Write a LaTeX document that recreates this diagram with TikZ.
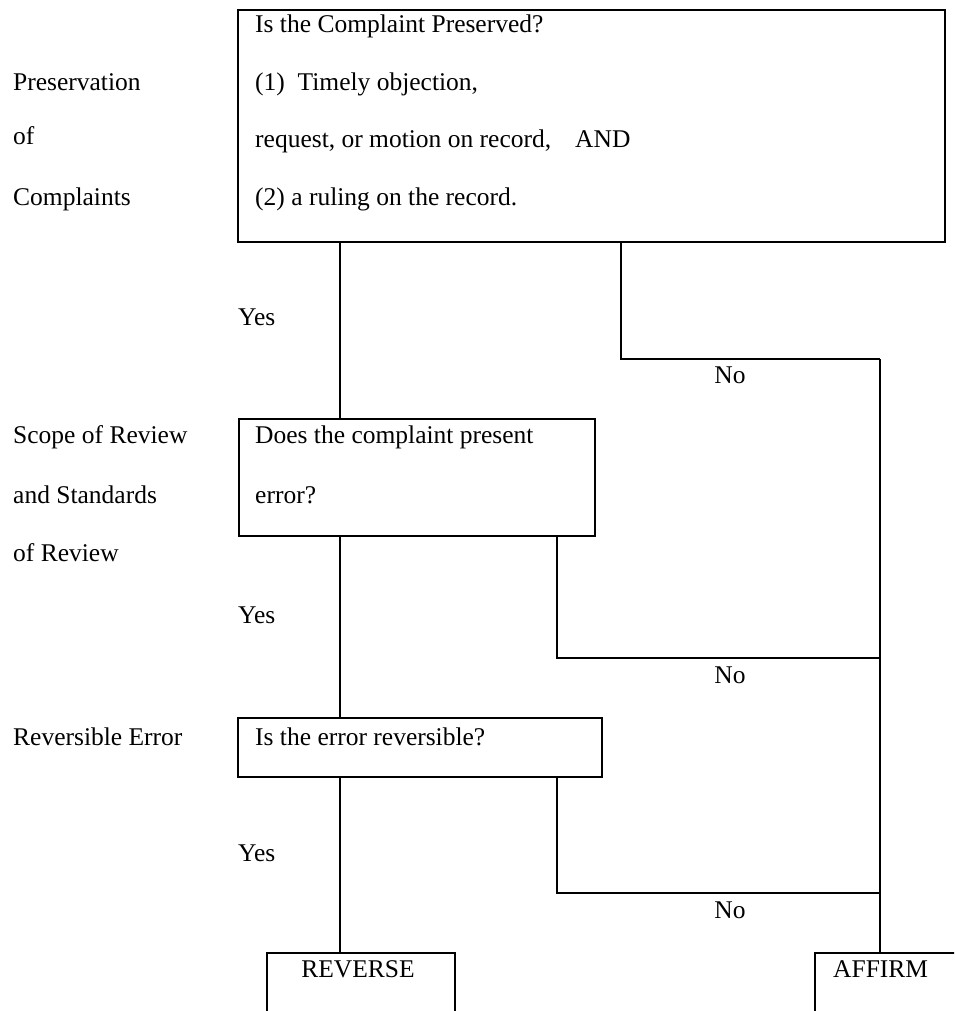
\documentclass[tikz,border=0pt]{standalone}
\usepackage{fontspec}
\setmainfont{Liberation Serif}
\begin{document}
\begin{tikzpicture}[x=1pt,y=-1pt,
  box/.style={draw, line width=1.8pt, anchor=north west, inner sep=0pt, outer sep=0pt},
  txt/.style={anchor=base west, inner sep=0pt, font=\fontsize{25.5}{30}\selectfont},
  ctxt/.style={anchor=base, inner sep=0pt, font=\fontsize{25.5}{30}\selectfont},
  wire/.style={line width=1.8pt}]
\clip (0,0) rectangle (954,1011);
\fill[white] (0,0) rectangle (954,1011);
% boxes
\node[box, minimum width=707pt, minimum height=232pt] (q1) at (238,10) {};
\node[box, minimum width=356pt, minimum height=117pt] (q2) at (239,419) {};
\node[box, minimum width=364pt, minimum height=59pt] (q3) at (238,718) {};
\node[box, minimum width=188pt, minimum height=100pt] (rev) at (267,953) {};
\node[box, minimum width=200pt, minimum height=100pt] (aff) at (815,953) {};
% left labels
\node[txt] (l1) at (13,91) {Preservation};
\node[txt] (l2) at (13,145) {of};
\node[txt] (l3) at (13,205) {Complaints};
\node[txt] (l4) at (13,443) {Scope of Review};
\node[txt] (l5) at (13,503) {and Standards};
\node[txt] (l6) at (13,561) {of Review};
\node[txt] (l7) at (13,745) {Reversible Error};
% box texts
\node[txt] (t1) at (255,33) {Is the Complaint Preserved?};
\node[txt] (t2) at (255,91) {(1)\ \ Timely objection,};
\node[txt] (t3) at (255,148) {request, or motion on record,};
\node[txt] (t4) at (575,148) {AND};
\node[txt] (t5) at (255,205) {(2) a ruling on the record.};
\node[txt] (t6) at (255,443) {Does the complaint present};
\node[txt] (t7) at (255,503) {error?};
\node[txt] (t8) at (255,745) {Is the error reversible?};
\node[ctxt] (tr) at (358,977) {REVERSE};
\node[txt] (ta) at (833,977) {AFFIRM};
% yes / no
\node[txt] (y1) at (238,325) {Yes};
\node[txt] (y2) at (238,623) {Yes};
\node[txt] (y3) at (238,861) {Yes};
\node[ctxt] (n1) at (730,383) {No};
\node[ctxt] (n2) at (730,683) {No};
\node[ctxt] (n3) at (730,918) {No};
% connector coordinates
\coordinate (cx) at (340,0);
\coordinate (rx1) at (621,0);
\coordinate (rx2) at (557,0);
\coordinate (j1) at (880,359);
\coordinate (j2) at (880,658);
\coordinate (j3) at (880,893);
% connectors
\draw[wire] (q1.south -| cx) -- (q2.north -| cx);
\draw[wire] (q2.south -| cx) -- (q3.north -| cx);
\draw[wire] (q3.south -| cx) -- (rev.north -| cx);
\draw[wire] (q1.south -| rx1) |- (j1);
\draw[wire] (q2.south -| rx2) |- (j2);
\draw[wire] (q3.south -| rx2) |- (j3);
\draw[wire] (j1) -- (aff.north -| j1);
\end{tikzpicture}
\end{document}
